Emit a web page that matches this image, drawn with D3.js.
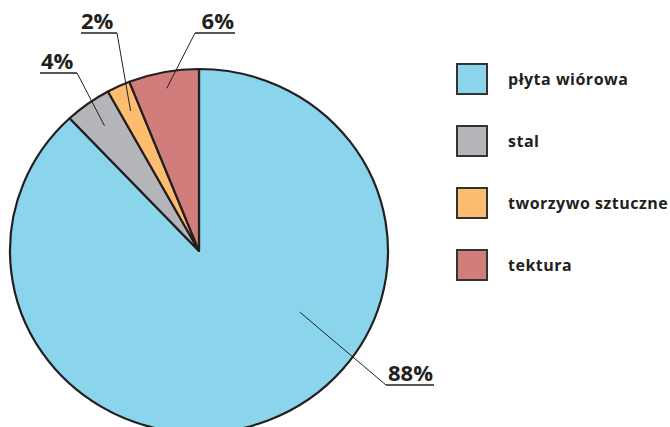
<!DOCTYPE html>
<html>
<head>
<meta charset="utf-8">
<script src="https://cdn.jsdelivr.net/npm/d3@7"></script>
<style>
  body { margin: 0; background: #fff; }
  svg { display: block; font-family: "Open Sans", sans-serif; }
</style>
</head>
<body>
<svg id="chart" width="670" height="427"></svg>
<script>
// data
const categories = ["płyta wiórowa", "stal", "tworzywo sztuczne", "tektura"];
const values = [88, 4, 2, 6];
const labels = ["88%", "4%", "2%", "6%"];
const colors = ["#8bd5ec", "#b3b5b8", "#fdbd71", "#d07d7b"];

const svg = d3.select("#chart");
const ink = "#231f20";

// pie geometry (the reference is slightly squashed vertically)
const cx = 199, cy = 251, radius = 189, squash = 0.963;

const pie = d3.pie().sort(null).value(d => d)(values);
const arc = d3.arc().innerRadius(0).outerRadius(radius);

const g = svg.append("g")
  .attr("transform", `translate(${cx},${cy}) scale(1,${squash})`);

g.selectAll("path")
  .data(pie)
  .enter().append("path")
    .attr("d", arc)
    .attr("fill", (d, i) => colors[i])
    .attr("stroke", ink)
    .attr("stroke-width", 2.2)
    .attr("stroke-linejoin", "round");

// label layout: inner end of leader (radius factor, optional angle), underline
const labelLayout = [
  { k: 0.63, angle: 122.2, x0: 386, x1: 434, y: 385, tx: 388, anchor: "start", join: "x0" },
  { k: 0.85, x0: 40, x1: 77, y: 73, tx: 41, anchor: "start", join: "x1" },
  { k: 0.85, x0: 81, x1: 117, y: 33, tx: 81, anchor: "start", join: "x1" },
  { k: 0.91, x0: 195, x1: 235, y: 33, tx: 234, anchor: "end", join: "x0" }
];

pie.forEach((p, i) => {
  const L = labelLayout[i];
  const r = radius * L.k;
  let a0 = p.startAngle, a1 = p.endAngle;
  if (L.angle !== undefined) { a0 = a1 = L.angle * Math.PI / 180; }
  const c = d3.arc().innerRadius(r).outerRadius(r).startAngle(a0).endAngle(a1).centroid();
  const px = cx + c[0], py = cy + c[1] * squash;
  const jx = L[L.join];

  svg.append("line")
    .attr("x1", px).attr("y1", py)
    .attr("x2", jx).attr("y2", L.y)
    .attr("stroke", ink).attr("stroke-width", 1);

  svg.append("line")
    .attr("x1", L.x0).attr("y1", L.y)
    .attr("x2", L.x1).attr("y2", L.y)
    .attr("stroke", ink).attr("stroke-width", 1.6);

  svg.append("text")
    .attr("x", L.tx).attr("y", L.y - 4)
    .attr("text-anchor", L.anchor)
    .attr("font-size", 22)
    .attr("font-weight", 700)
    .attr("fill", ink)
    .text(labels[i]);
});

// legend
const legend = svg.append("g").attr("transform", "translate(457,64)");
const item = legend.selectAll("g")
  .data(categories)
  .enter().append("g")
    .attr("transform", (d, i) => `translate(0,${i * 62})`);

item.append("rect")
  .attr("width", 30).attr("height", 30)
  .attr("fill", (d, i) => colors[i])
  .attr("stroke", "#333")
  .attr("stroke-width", 2);

item.append("text")
  .attr("x", 51).attr("y", 15)
  .attr("dy", "0.35em")
  .attr("font-size", 16)
  .attr("letter-spacing", 0.5)
  .attr("font-weight", 700)
  .attr("fill", ink)
  .text(d => d);
</script>
</body>
</html>
